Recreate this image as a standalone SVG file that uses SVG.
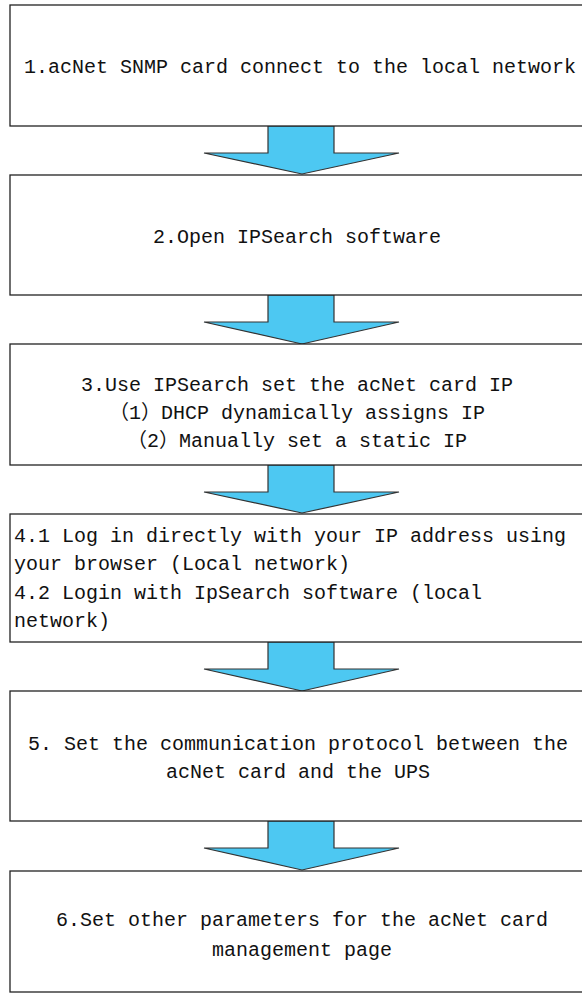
<svg xmlns="http://www.w3.org/2000/svg" width="582" height="995" viewBox="0 0 582 995">
<style>
.box{fill:#fff;stroke:#222;stroke-width:1.3}
.arr{fill:#4DC8F2;stroke:#333;stroke-width:1.2;stroke-linejoin:miter}
text{font-family:"Liberation Mono","Noto Sans CJK SC",monospace;font-size:20px;fill:#111}
.c{text-anchor:middle}
</style>
<rect width="582" height="995" fill="#fff"/>
<g id="connectors">
<polygon class="arr" points="268,126 334,126 334,153 399,153 302,174 204,153 268,153"/>
<polygon class="arr" points="268,295 334,295 334,322 399,322 302,344 204,322 268,322"/>
<polygon class="arr" points="268,465 334,465 334,492 399,492 302,513 204,492 268,492"/>
<polygon class="arr" points="268,642 334,642 334,669 399,669 302,691 204,669 268,669"/>
<polygon class="arr" points="268,821 334,821 334,848 399,848 302,870 204,848 268,848"/>
</g>
<g id="n1">
<rect class="box" x="10" y="5" width="580" height="121"/>
<text x="24" y="73">1.acNet SNMP card connect to the local network</text>
</g>
<g id="n2">
<rect class="box" x="10" y="175" width="580" height="120"/>
<text class="c" x="297" y="243">2.Open IPSearch software</text>
</g>
<g id="n3">
<rect class="box" x="10" y="344" width="580" height="121"/>
<text class="c" x="297" y="391">3.Use IPSearch set the acNet card IP</text>
<text class="c" x="297" y="419">（1）DHCP dynamically assigns IP</text>
<text class="c" x="297" y="447">（2）Manually set a static IP</text>
</g>
<g id="n4">
<rect class="box" x="10" y="514" width="580" height="128"/>
<text x="14" y="542">4.1 Log in directly with your IP address using</text>
<text x="14" y="570">your browser (Local network)</text>
<text x="14" y="599">4.2 Login with IpSearch software (local</text>
<text x="14" y="627">network)</text>
</g>
<g id="n5">
<rect class="box" x="10" y="691" width="580" height="130"/>
<text class="c" x="298" y="750">5. Set the communication protocol between the</text>
<text class="c" x="298" y="778">acNet card and the UPS</text>
</g>
<g id="n6">
<rect class="box" x="10" y="871" width="580" height="121"/>
<text class="c" x="302" y="926">6.Set other parameters for the acNet card</text>
<text class="c" x="302" y="956">management page</text>
</g>
</svg>
